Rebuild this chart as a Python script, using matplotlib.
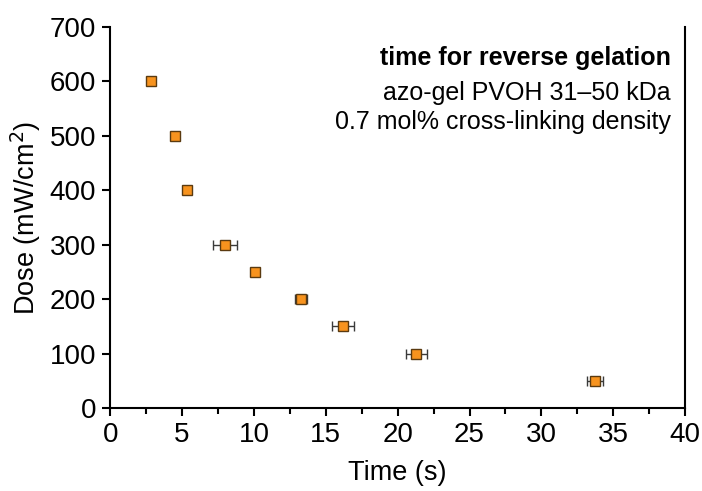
import matplotlib

matplotlib.use("Agg")
import matplotlib.pyplot as plt
from matplotlib.ticker import MultipleLocator

plt.rcParams["font.family"] = ["Liberation Sans", "DejaVu Sans"]

time_s = [2.85, 4.5, 5.35, 8.0, 10.1, 13.3, 16.2, 21.3, 33.7]
time_err = [0.1, 0.25, 0.25, 0.85, 0.1, 0.42, 0.74, 0.72, 0.56]
dose = [600, 500, 400, 300, 250, 200, 150, 100, 50]

fig = plt.figure(figsize=(7.02, 4.91), dpi=100)
ax = fig.add_axes([0.157, 0.169, 0.819, 0.776])

ax.errorbar(time_s, dose, xerr=time_err, fmt="none", ecolor="#3a3a3a",
            elinewidth=1.0, capsize=3.5, capthick=1.0, zorder=2)
ax.plot(time_s, dose, "s", ms=7, mfc="#f7931e", mec="#5a3a10", mew=1.0, zorder=3)

ax.set_xlim(0, 40)
ax.set_ylim(0, 700)
ax.xaxis.set_major_locator(MultipleLocator(5))
ax.xaxis.set_minor_locator(MultipleLocator(2.5))
ax.yaxis.set_major_locator(MultipleLocator(100))

ax.spines["top"].set_visible(False)
for s in ["left", "bottom", "right"]:
    ax.spines[s].set_linewidth(1.5)
ax.tick_params(axis="both", which="major", direction="out", length=6, width=1.5,
               pad=4, labelsize=20, colors="black")
ax.tick_params(axis="x", which="minor", direction="out", length=4, width=1.5)

ax.set_xlabel("Time (s)", fontsize=19.5, labelpad=9)
ax.set_ylabel("Dose (mW/cm$^2$)", fontsize=19.5, labelpad=5)

ax.text(0.975, 0.918, "time for reverse gelation", transform=ax.transAxes,
        ha="right", va="center", fontsize=18, fontweight="bold")
ax.text(0.975, 0.828, "azo-gel PVOH 31\u201350 kDa", transform=ax.transAxes,
        ha="right", va="center", fontsize=18)
ax.text(0.975, 0.751, "0.7 mol% cross-linking density", transform=ax.transAxes,
        ha="right", va="center", fontsize=18)

fig.savefig("out.png", dpi=100)
